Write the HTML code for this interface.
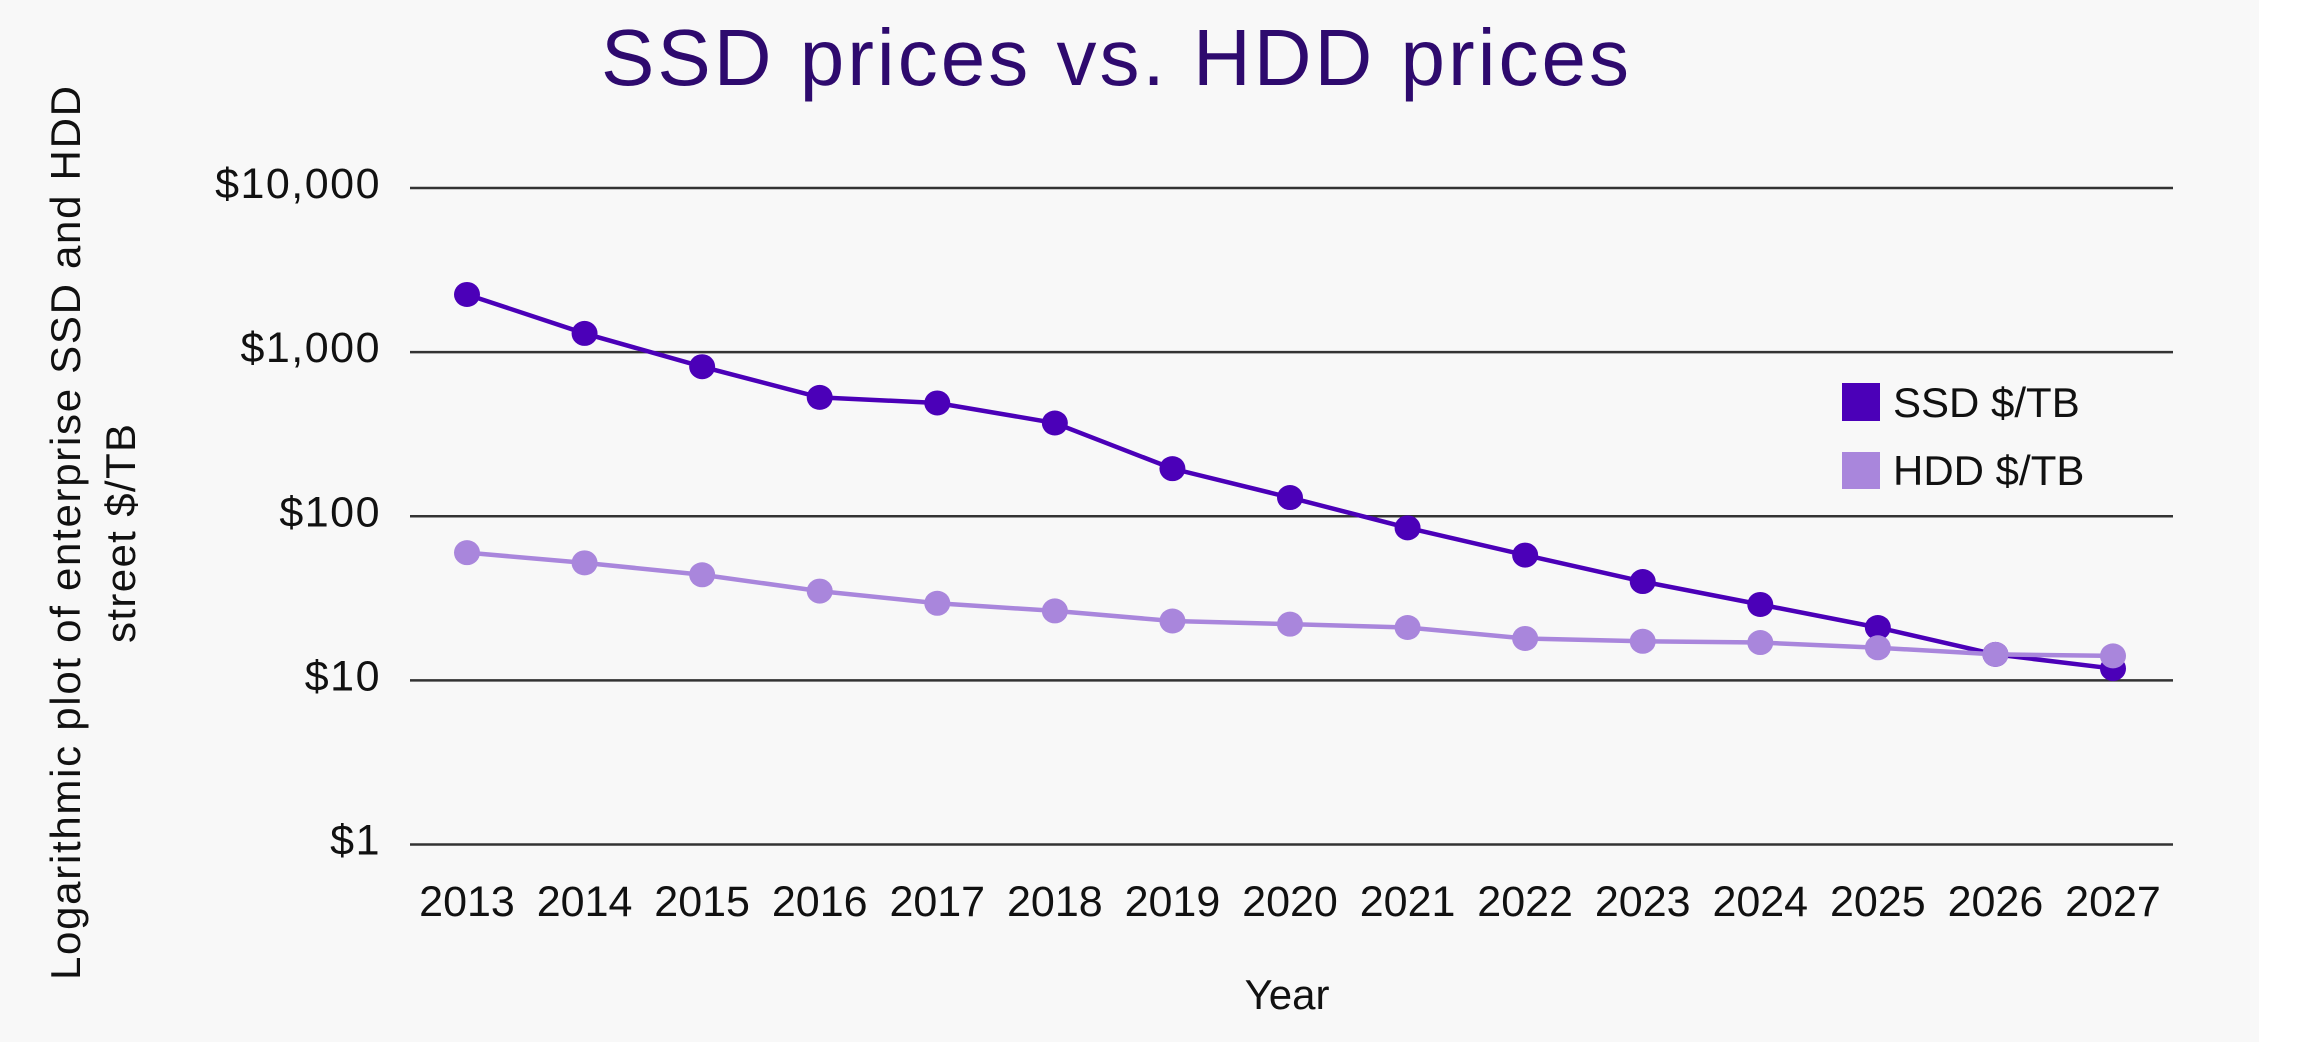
<!DOCTYPE html>
<html><head><meta charset="utf-8"><style>
html,body{margin:0;padding:0;background:#fff}
svg{display:block}
text{font-family:"Liberation Sans",sans-serif}
</style></head><body>
<svg id="chart" width="2298" height="1042" xmlns="http://www.w3.org/2000/svg">
<rect x="0" y="0" width="2259" height="1042" fill="#f8f8f8"/>
<text x="601" y="85" font-size="80" fill="#2e0a6e" textLength="1028" lengthAdjust="spacing">SSD prices vs. HDD prices</text>
<g transform="translate(66,533) rotate(-90)">
<text x="-447" y="14" font-size="42" fill="#111" textLength="894" lengthAdjust="spacing">Logarithmic plot of enterprise SSD and HDD</text>
<text x="-110" y="69" font-size="42" fill="#111" textLength="219" lengthAdjust="spacing">street $/TB</text>
</g>
<text x="1287" y="1009" text-anchor="middle" font-size="42" fill="#111">Year</text>
<g id="grid"></g><g id="lines"></g>
<rect x="1842" y="383" width="38" height="38" fill="#4b00b8"/>
<text x="1893" y="417" font-size="42" fill="#111">SSD $/TB</text>
<rect x="1842" y="452" width="38" height="37" fill="#a986dc"/>
<text x="1893" y="485" font-size="42" fill="#111">HDD $/TB</text>
</svg>
<script>
const years=[2013,2014,2015,2016,2017,2018,2019,2020,2021,2022,2023,2024,2025,2026,2027];
const ssd=[2245,1300,815,530,490,370,195,130,85,58,40,29,21,14.4,11.8];
const hdd=[60,52,44,35,29.5,26.5,23,22,21,18,17.3,17,15.8,14.4,14.1];
const yTicks=[1,10,100,1000,10000];
const yTickLabels=["$1","$10","$100","$1,000","$10,000"];
const NS="http://www.w3.org/2000/svg";
const x0=467,dx=(2113-467)/14,yTop=188,yBot=844.5;
function xs(i){return x0+i*dx;}
function ys(v){return yBot-(Math.log10(v)/4)*(yBot-yTop);}
function mk(t,a,p){const e=document.createElementNS(NS,t);for(const k in a)e.setAttribute(k,a[k]);p.appendChild(e);return e;}
const g=document.getElementById('grid'),L=document.getElementById('lines');
yTicks.forEach((v,i)=>{
 const l=mk('line',{x1:410,x2:2173,y1:ys(v),y2:ys(v),stroke:'#333','stroke-width':2.5},g);
 
 
 const t=mk('text',{x:381,y:ys(v)+10,'text-anchor':'end','font-size':43,'letter-spacing':1.5,fill:'#111'},g);
 t.textContent=yTickLabels[i];
 
 
});
years.forEach((y,i)=>{
 const t=mk('text',{x:xs(i),y:916,'text-anchor':'middle','font-size':43,fill:'#111'},g);
 t.textContent=y;
 
 
});
function series(vals,color,name){
 const p=mk('polyline',{points:vals.map((v,i)=>xs(i)+','+ys(v)).join(' '),fill:'none',stroke:color,'stroke-width':4.5},L);
 
 
 vals.forEach((v,i)=>{
  const c=mk('ellipse',{cx:xs(i),cy:ys(v),rx:13,ry:12.5,fill:color},L);
  
  
 });
}
series(ssd,'#4b00b8','ssd');
series(hdd,'#a986dc','hdd');
</script>
</body></html>
